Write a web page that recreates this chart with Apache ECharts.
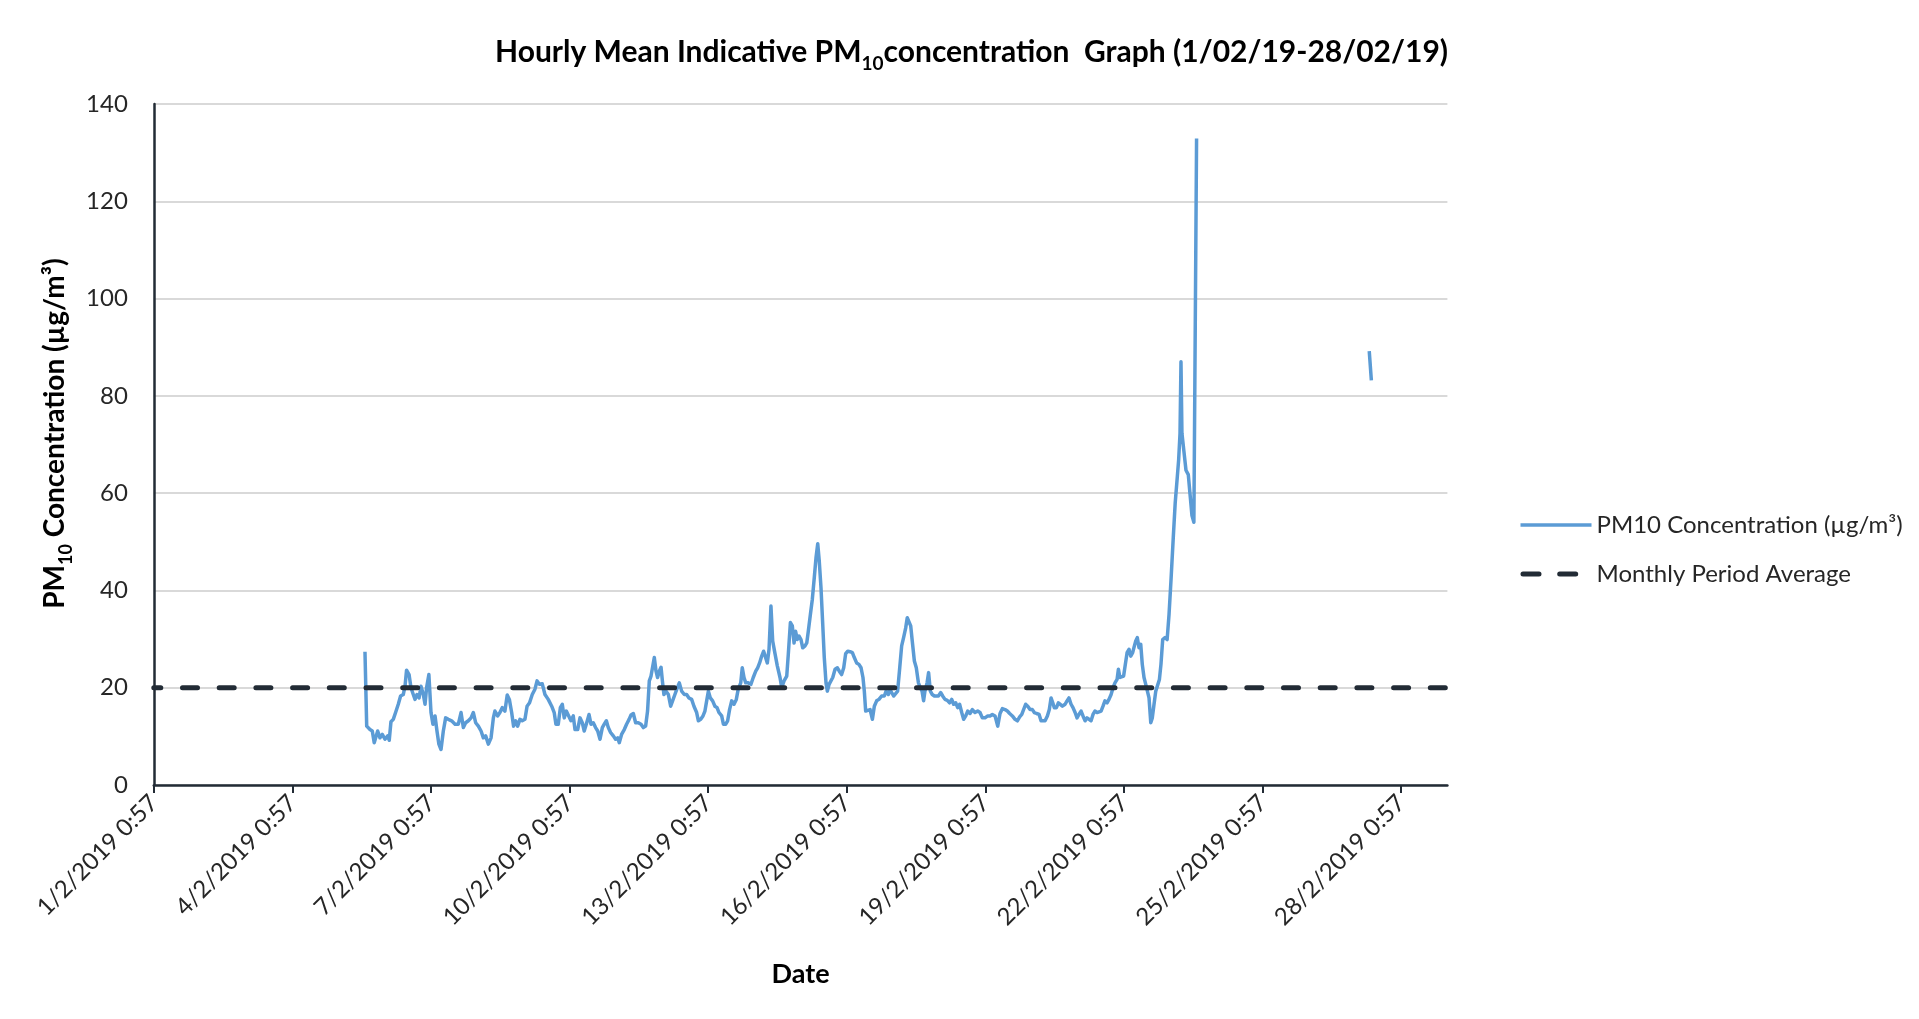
<!DOCTYPE html>
<html>
<head>
<meta charset="utf-8">
<script src="https://cdn.jsdelivr.net/npm/echarts@6/dist/echarts.min.js"></script>
<style>
html,body{margin:0;padding:0;background:#fff;}
#chart{width:1919px;height:1019px;}
</style>
</head>
<body>
<div id="chart"></div>
<script>
// x values: hours elapsed since 1/2/2019 0:57
var tickHours = [0, 72, 144, 216, 288, 360, 432, 504, 576, 648];
var tickLabels = ['1/2/2019 0:57', '4/2/2019 0:57', '7/2/2019 0:57', '10/2/2019 0:57', '13/2/2019 0:57',
  '16/2/2019 0:57', '19/2/2019 0:57', '22/2/2019 0:57', '25/2/2019 0:57', '28/2/2019 0:57'];
var yTicks = [0, 20, 40, 60, 80, 100, 120, 140];

var hours = [
  109.7,110.6,112.3,113.5,114.5,116.3,117.5,118.7,120.1,121.5,122.3,123.2,124.4,125.6,127.0,128.2,129.6,130.5,131.3,132.6,
  133.6,134.8,135.7,136.7,137.8,138.8,140.0,140.9,141.7,142.9,144.0,145.0,146.1,147.1,148.1,149.2,150.4,151.6,153.0,154.7,
  156.5,158.2,159.6,160.8,162.0,163.4,164.8,166.0,167.2,168.6,170.0,171.2,172.4,173.8,175.2,176.4,177.2,178.6,179.8,181.0,
  182.4,183.6,184.7,185.9,186.9,188.0,189.0,190.2,191.4,192.8,193.9,195.2,196.6,198.0,199.1,200.3,201.8,203.2,204.9,206.7,
  208.0,208.9,210.1,211.2,212.2,213.2,214.3,216.7,217.9,218.8,220.2,221.4,222.6,223.6,224.9,226.1,227.1,228.3,229.5,230.6,
  231.8,233.0,234.0,235.1,236.1,237.3,238.7,239.9,241.0,241.8,243.0,244.4,245.6,246.9,247.9,249.1,250.3,251.7,253.1,254.3,
  255.5,256.5,257.4,258.3,259.3,260.0,260.9,261.7,262.6,263.5,264.2,265.0,266.1,267.3,268.5,269.5,270.7,272.0,273.0,274.2,
  275.6,276.8,278.0,279.4,280.6,282.0,282.9,284.1,285.3,286.3,287.2,288.1,289.1,290.3,291.5,292.6,293.6,295.0,295.9,297.1,
  298.1,299.1,300.2,301.4,302.6,303.6,304.9,305.7,306.6,307.5,308.8,310.2,311.4,312.7,313.7,314.7,315.8,316.8,317.8,318.7,
  319.6,320.6,321.5,322.7,323.9,325.3,326.2,327.4,328.8,329.6,330.7,331.7,332.6,333.4,334.3,335.2,336.2,337.1,338.3,339.2,
  340.0,341.1,342.1,343.1,344.0,344.9,345.7,346.6,347.5,348.3,349.2,349.9,350.8,351.8,352.7,353.9,355.1,356.1,357.3,358.4,
  359.4,360.5,361.7,362.9,363.9,365.1,366.3,367.4,368.4,369.1,369.8,370.8,372.1,373.3,374.3,375.5,376.7,378.1,379.5,380.4,
  381.6,382.4,383.3,384.4,385.4,386.4,387.5,388.5,389.5,390.6,391.4,392.3,393.2,394.0,395.1,396.1,397.2,398.2,399.1,399.9,
  400.6,401.7,402.5,403.4,404.4,405.5,406.5,407.6,408.8,409.8,411.0,412.2,413.4,414.5,415.5,416.6,417.6,418.6,419.7,420.7,
  421.8,422.8,424.0,425.2,426.6,428.0,429.2,430.4,431.8,433.2,434.4,435.6,437.0,438.4,439.6,440.8,442.2,443.4,444.6,446.0,
  447.4,448.6,449.8,450.9,451.9,452.9,454.0,455.2,456.4,457.4,458.6,459.9,460.9,461.9,463.0,464.2,465.2,466.1,467.0,467.8,
  468.9,469.9,470.9,472.0,473.4,474.4,475.4,476.5,477.5,478.6,479.6,480.6,481.7,482.7,483.8,484.8,485.8,486.9,487.9,488.9,
  490.0,491.0,492.1,493.1,494.1,495.2,496.2,497.3,498.3,499.3,500.4,501.1,501.9,502.8,503.8,504.7,505.6,506.6,507.5,508.5,
  509.4,510.1,510.9,511.8,512.7,513.5,514.4,515.3,516.1,517.0,517.9,518.7,519.6,520.5,521.5,522.4,523.2,524.1,525.3,526.4,
  527.4,528.4,529.6,530.6,531.7,532.4,533.1,533.6,534.1,535.1,536.2,537.4,538.3,539.3,540.3,541.7,
  586,
  631.4,632.5
];
var pm10 = [
  27.4,12.1,11.4,11.1,8.7,11.1,9.7,10.4,9.4,10.1,9.2,13.0,13.5,14.9,16.6,18.3,18.6,20.3,23.6,22.7,
  20.0,18.6,17.6,18.6,17.9,20.3,18.6,16.6,20.0,22.7,14.9,12.5,14.2,11.1,8.4,7.3,11.1,13.8,13.5,13.2,
  12.5,12.5,14.9,11.8,12.8,13.2,13.8,14.9,12.8,12.1,11.1,9.7,10.1,8.4,9.7,13.8,15.2,14.2,14.9,15.9,
  15.2,18.5,17.6,14.9,12.1,13.2,12.1,13.5,13.2,13.5,16.2,16.9,18.6,19.7,21.4,20.7,20.8,18.6,17.6,16.2,
  14.9,12.5,12.5,15.9,16.6,13.8,15.2,13.2,14.2,11.4,11.4,13.8,12.8,11.1,12.8,14.5,12.5,12.8,11.8,11.1,
  9.4,11.8,12.5,13.2,11.8,10.8,10.1,9.4,9.7,8.7,10.4,11.4,12.5,13.5,14.4,14.7,12.8,12.8,12.5,11.8,
  12.1,15.2,21.4,22.4,22.4,26.2,23.4,22.1,23.4,24.2,21.4,18.6,19.3,18.6,16.2,17.3,18.6,20.0,21.0,19.3,
  18.6,18.6,17.9,17.6,16.2,14.9,13.2,13.5,14.2,15.2,17.3,19.3,17.9,17.3,16.2,15.9,14.9,14.2,12.5,12.5,
  13.2,15.5,17.3,16.6,17.6,19.7,21.0,24.1,22.1,21.0,21.0,20.7,22.1,23.4,24.1,25.1,26.5,27.5,27.2,25.1,
  27.9,36.8,29.6,27.0,24.5,22.1,20.0,21.4,22.4,26.8,33.4,32.7,29.2,31.6,29.9,30.6,29.9,28.2,28.6,29.2,
  31.6,35.1,38.2,42.6,46.7,49.6,46.0,40.5,33.0,26.2,21.0,19.3,20.7,21.0,22.1,23.8,24.1,23.4,22.7,24.1,
  27.0,27.5,27.4,27.2,26.2,25.1,24.8,24.1,22.1,19.3,15.2,14.9,15.5,13.5,16.2,17.3,17.6,18.3,18.3,19.3,
  18.6,19.7,19.0,18.3,18.6,19.3,24.1,28.6,30.3,32.3,34.4,34.7,32.7,29.6,25.5,24.1,21.0,20.0,19.3,17.3,
  19.3,21.0,23.1,19.3,18.6,18.3,17.9,18.3,19.0,18.3,17.6,17.4,16.9,17.6,16.6,16.9,15.9,16.6,14.9,13.5,
  14.2,15.2,14.7,15.5,14.9,15.2,14.9,13.8,13.8,14.2,14.2,14.5,14.2,12.1,14.7,15.7,15.5,15.2,14.7,14.2,
  13.5,13.2,14.0,14.5,14.9,16.6,16.2,15.5,15.5,14.9,14.7,14.5,13.2,12.8,13.2,14.2,15.5,17.9,16.9,15.9,
  15.9,16.9,16.6,16.2,16.6,17.3,17.9,16.6,15.9,14.9,13.8,14.5,15.2,14.2,13.2,13.8,13.8,13.2,14.5,15.2,
  14.9,15.2,15.2,16.2,17.3,16.9,17.6,18.6,20.0,21.0,21.7,23.8,22.1,22.1,22.4,24.8,27.2,27.9,26.5,27.2,
  28.6,29.6,30.3,28.2,28.9,24.8,22.1,20.7,20.3,17.9,12.8,13.8,16.6,19.3,19.0,21.7,24.8,29.9,30.3,29.9,
  35.1,42.0,50.9,58.0,63.4,66.9,72.3,87.0,72.3,68.7,64.7,63.8,59.8,55.4,54.0,132.9,
  null,
  89.2,83.2
];
var avgHours = [0, 672];
var avgValue = [20.0, 20.0];

var FONT = 'Lato';
var BLUE = '#5b9bd5';
var NAVY = '#222b35';
var seriesData = hours.map(function (h, i) { return [h, pm10[i]]; });
var avgData = avgHours.map(function (h, i) { return [h, avgValue[i]]; });

var chart = echarts.init(document.getElementById('chart'), null, { renderer: 'canvas' });
chart.setOption({
  backgroundColor: '#ffffff',
  animation: false,
  title: {
    text: '{b|Hourly Mean Indicative PM}{s|10}{b|concentration  Graph (1/02/19-28/02/19)}',
    left: 490,
    top: 32,
    textStyle: {
      rich: {
        b: { fontFamily: FONT, fontSize: 30, fontWeight: 'bold', color: '#000', lineHeight: 36, verticalAlign: 'top' },
        s: { fontFamily: FONT, fontSize: 19, fontWeight: 'bold', color: '#000', lineHeight: 18, verticalAlign: 'bottom' }
      }
    }
  },
  legend: {
    orient: 'vertical',
    left: 1513,
    top: 505,
    itemWidth: 71,
    itemHeight: 14,
    itemGap: 19,
    itemStyle: { opacity: 0 },
    textStyle: { fontFamily: FONT, fontSize: 24, color: '#262626', lineHeight: 30 },
    data: [
      { name: 'PM10 Concentration (µg/m³)', lineStyle: { color: BLUE, width: 3.5 } },
      { name: 'Monthly Period Average', lineStyle: { color: NAVY, width: 5, type: [16, 20.7], cap: 'round', dashOffset: -2.5 } }
    ]
  },
  grid: { left: 153.8, right: 471.6, top: 104, bottom: 234, containLabel: false },
  xAxis: {
    type: 'value',
    min: 0,
    max: 672,
    interval: 72,
    name: 'Date',
    nameLocation: 'middle',
    nameGap: 176,
    nameTextStyle: { fontFamily: FONT, fontSize: 27, fontWeight: 'bold', color: '#000' },
    axisLine: { show: true, lineStyle: { color: NAVY, width: 2.5 } },
    axisTick: { show: true, length: 8, customValues: tickHours, lineStyle: { color: NAVY, width: 2 } },
    axisLabel: {
      customValues: tickHours,
      rotate: 45,
      margin: 14,
      fontFamily: FONT,
      fontSize: 24,
      color: '#262626',
      formatter: function (v) { var i = tickHours.indexOf(v); return i >= 0 ? tickLabels[i] : ''; }
    },
    splitLine: { show: false }
  },
  yAxis: {
    type: 'value',
    min: yTicks[0],
    max: yTicks[yTicks.length - 1],
    interval: yTicks[1] - yTicks[0],
    name: '{b|PM}{s|10}{b| Concentration (µg/m³)}',
    nameLocation: 'middle',
    nameRotate: 90,
    nameGap: 75,
    nameTextStyle: {
      padding: [0, 0, 0, 22],
      rich: {
        b: { fontFamily: FONT, fontSize: 28, fontWeight: 'bold', color: '#000', lineHeight: 34, verticalAlign: 'top' },
        s: { fontFamily: FONT, fontSize: 18, fontWeight: 'bold', color: '#000', lineHeight: 17, verticalAlign: 'bottom' }
      }
    },
    axisLine: { show: true, lineStyle: { color: NAVY, width: 2.5 } },
    axisTick: { show: false },
    axisLabel: { margin: 26, fontFamily: FONT, fontSize: 24, color: '#262626' },
    splitLine: { show: true, lineStyle: { color: '#d9d9d9', width: 2 } }
  },
  series: [
    {
      name: 'PM10 Concentration (µg/m³)',
      type: 'line',
      data: seriesData,
      showSymbol: false,
      symbol: 'none',
      connectNulls: false,
      lineStyle: { color: BLUE, width: 3.5, join: 'round' },
      itemStyle: { color: BLUE },
      z: 3
    },
    {
      name: 'Monthly Period Average',
      type: 'line',
      data: avgData,
      showSymbol: false,
      symbol: 'none',
      lineStyle: { color: NAVY, width: 5, type: [15, 21.7], cap: 'round', dashOffset: 8 },
      itemStyle: { color: NAVY },
      z: 4
    }
  ]
});
</script>
</body>
</html>
